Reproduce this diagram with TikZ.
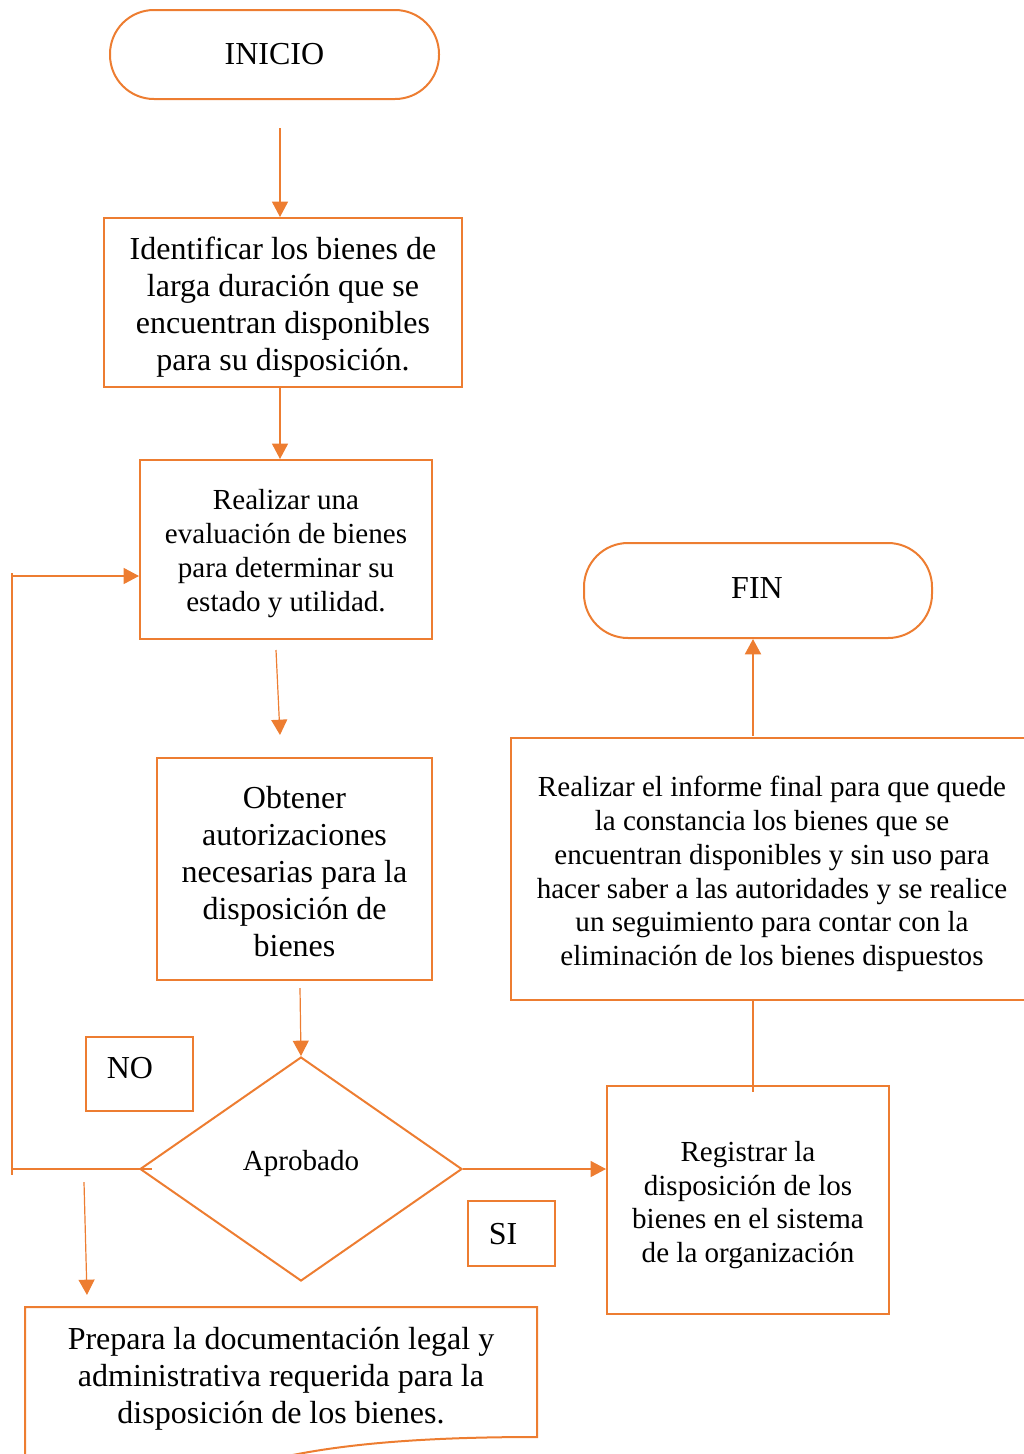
\documentclass[tikz,border=0pt]{standalone}
\usepackage{fontspec}
\setmainfont{Liberation Serif}
\usetikzlibrary{arrows.meta,shapes.geometric,calc}
\definecolor{orng}{HTML}{ED7D31}
\newcommand\bigf{\fontsize{24pt}{27.75pt}\selectfont}
\newcommand\smf{\fontsize{21.8pt}{25.3pt}\selectfont}
\begin{document}
\begin{tikzpicture}[x=0.75pt,y=-0.75pt,
  box/.style={draw=orng,line width=1.5pt,align=center,inner sep=0pt},
  txt/.style={align=center,inner sep=0pt},
  term/.style={box,rounded corners=33pt},
  conn/.style={draw=orng,line width=0.9pt},
  arr/.style={conn,-{Triangle[width=12pt,length=11.5pt]}},
  arrthick/.style={draw=orng,line width=1.5pt,-{Triangle[width=12pt,length=11.5pt]}},
]
\useasboundingbox (0,0) rectangle (1024,1454);

% terminals
\node[term,minimum width=329*0.75pt,minimum height=89*0.75pt,font=\bigf] (ini) at (274.5,54.5) {INICIO};
\node[term,minimum width=348*0.75pt,minimum height=95*0.75pt,font=\bigf] (fin) at (758,590.5) {};
\node[txt,font=\bigf] (fintxt) at (757,588) {FIN};

% process boxes
\node[box,minimum width=358*0.75pt,minimum height=169*0.75pt] (b1) at (283,302.5) {};
\node[txt,font=\bigf] (b1t) at ($(b1)+(0,5)$)
  {Identificar los bienes de\\larga duración que se\\encuentran disponibles\\para su disposición.};
\node[box,minimum width=292*0.75pt,minimum height=179*0.75pt] (b2) at (286,549.5) {};
\node[txt,font=\smf] (b2t) at ($(b2)+(0,4)$)
  {Realizar una\\evaluación de bienes\\para determinar su\\estado y utilidad.};
\node[box,minimum width=275*0.75pt,minimum height=222*0.75pt] (b3) at (294.5,869) {};
\node[txt,font=\bigf] (b3t) at ($(b3)+(0,3)$)
  {Obtener\\autorizaciones\\necesarias para la\\disposición de\\bienes};
\node[draw=orng,line width=1.5pt,diamond,inner sep=0pt,minimum width=322*0.75pt,minimum height=224*0.75pt] (dia) at (301,1169) {};
\node[txt,font=\smf] (apr) at (301,1163) {Aprobado};
\node[box,minimum width=107*0.75pt,minimum height=74*0.75pt] (no) at (139.5,1074) {};
\node[txt,font=\bigf] (notxt) at (130,1068) {NO};
\node[box,minimum width=87*0.75pt,minimum height=65*0.75pt] (si) at (511.5,1233.5) {};
\node[txt,font=\bigf] (sitxt) at (503,1234) {SI};
\node[box,minimum width=282*0.75pt,minimum height=228*0.75pt] (reg) at (748,1200) {};
\node[txt,font=\smf] (regt) at ($(reg)+(0,5)$)
  {Registrar la\\disposición de los\\bienes en el sistema\\de la organización};
\node[box,minimum width=530*0.75pt,minimum height=262*0.75pt] (rep) at (776,869) {};
\node[txt,font=\smf] (reptxt) at (772,874)
  {Realizar el informe final para que quede\\la constancia los bienes que se\\encuentran disponibles y sin uso para\\hacer saber a las autoridades y se realice\\un seguimiento para contar con la\\eliminación de los bienes dispuestos};

% document shape
\draw[orng,line width=1.5pt] (25,1460) -- (25,1307) -- (537,1307) -- (537,1437)
  .. controls (430,1437) and (340,1443) .. (270,1460);
\node[txt,font=\bigf] (doc) at (281,1379)
  {Prepara la documentación legal y\\administrativa requerida para la\\disposición de los bienes.};

% connectors
\coordinate (c1) at (280,128);
\draw[arr] (c1) -- (c1 |- b1.north);
\coordinate (c2) at (280,0);
\draw[arr] (c2 |- b1.south) -- (c2 |- b2.north);
\coordinate (c3a) at (276,650);
\coordinate (c3b) at (280,735);
\draw[arr] (c3a) -- (c3b);
\coordinate (c4) at (300,988);
\draw[arr] (c4) -- (dia.north);
\draw[arr] (dia.east) -- (dia.east -| reg.west);
\coordinate (lp) at (12,576);
\draw[conn] ($(dia.west)+(13,0)$) -- (dia.west -| lp);
\draw[conn] ($(lp)+(0,-3)$) -- ($(dia.west -| lp)+(0,6)$);
\draw[arr] (lp) -- (lp -| b2.west);
\coordinate (c5a) at (84,1182);
\coordinate (c5b) at (87,1295);
\draw[arr] (c5a) -- (c5b);
\coordinate (c6) at (753,1092);
\draw[conn] (c6 |- rep.south) -- (c6);
\coordinate (c7) at (753,736);
\draw[arrthick] (c7) -- (c7 |- fin.south);
\end{tikzpicture}
\end{document}
